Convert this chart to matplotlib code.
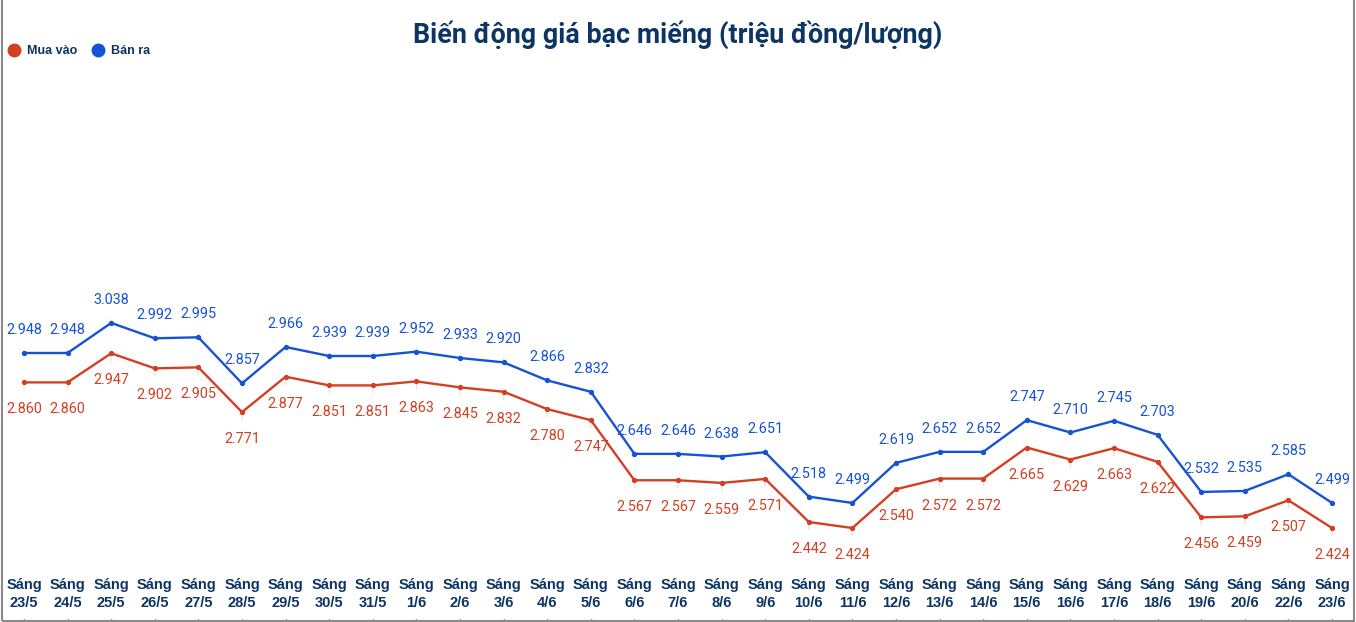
import matplotlib
matplotlib.use("Agg")
import matplotlib.pyplot as plt
from matplotlib.patches import Rectangle
from matplotlib.lines import Line2D

dates = ["23/5", "24/5", "25/5", "26/5", "27/5", "28/5", "29/5", "30/5", "31/5",
         "1/6", "2/6", "3/6", "4/6", "5/6", "6/6", "7/6", "8/6", "9/6", "10/6",
         "11/6", "12/6", "13/6", "14/6", "15/6", "16/6", "17/6", "18/6", "19/6",
         "20/6", "22/6", "23/6"]
ban_ra = [2.948, 2.948, 3.038, 2.992, 2.995, 2.857, 2.966, 2.939, 2.939, 2.952,
          2.933, 2.920, 2.866, 2.832, 2.646, 2.646, 2.638, 2.651, 2.518, 2.499,
          2.619, 2.652, 2.652, 2.747, 2.710, 2.745, 2.703, 2.532, 2.535, 2.585, 2.499]
mua_vao = [2.860, 2.860, 2.947, 2.902, 2.905, 2.771, 2.877, 2.851, 2.851, 2.863,
           2.845, 2.832, 2.780, 2.747, 2.567, 2.567, 2.559, 2.571, 2.442, 2.424,
           2.540, 2.572, 2.572, 2.665, 2.629, 2.663, 2.622, 2.456, 2.459, 2.507, 2.424]

RED = "#d23f22"
BLUE = "#1652d4"
NAVY = "#0d3563"

W, H = 1356, 622
fig = plt.figure(figsize=(W / 100, H / 100), dpi=100)
fig.patch.set_facecolor("white")

# plot area: y pixels 70..570
ax = fig.add_axes([0, (H - 570) / H, 1, 500 / H])
x = list(range(len(dates)))
ax.set_xlim(-0.55, len(dates) - 0.45)
ax.set_ylim(2.2983, 3.7953)

ax.plot(x, ban_ra, color=BLUE, lw=1.7, marker="o", ms=2.8, zorder=3)
ax.plot(x, mua_vao, color=RED, lw=1.7, marker="o", ms=2.8, zorder=3)

lead = dict(arrowstyle="-", color="#e3e3e3", lw=0.9, shrinkA=7, shrinkB=1)
for i, v in enumerate(ban_ra):
    ax.annotate(f"{v:.3f}", xy=(i, v), xytext=(0, 16.5), textcoords="offset points",
                ha="center", va="center", color=BLUE, fontsize=10.4,
                family="Roboto", arrowprops=lead, zorder=2)
for i, v in enumerate(mua_vao):
    ax.annotate(f"{v:.3f}", xy=(i, v), xytext=(0, -19.5), textcoords="offset points",
                ha="center", va="center", color=RED, fontsize=10.4,
                family="Roboto", arrowprops=lead, zorder=2)

for s in ax.spines.values():
    s.set_visible(False)
ax.set_yticks([])
ax.set_xticks(x)
ax.set_xticklabels([f"Sáng\n{d}" for d in dates], fontsize=10.5, fontweight="bold",
                   color=NAVY, family="Liberation Sans", linespacing=1.3)
ax.tick_params(axis="x", length=0, pad=6)

# small ticks under the labels
tax = fig.add_axes([0, 3 / H, 1, 4 / H])
tax.set_xlim(ax.get_xlim())
tax.set_xticks(x)
tax.set_xticklabels([])
tax.set_yticks([])
tax.tick_params(axis="x", length=3, width=1, color="#555555", direction="out")
for s in tax.spines.values():
    s.set_visible(False)
tax.patch.set_alpha(0)

fig.text(0.5, 1 - 35 / H, "Biến động giá bạc miếng (triệu đồng/lượng)",
         ha="center", va="center", fontsize=19.4, fontweight="bold",
         color=NAVY, family="Roboto")

handles = [Line2D([], [], ls="", marker="o", ms=9, color=RED, label="Mua vào"),
           Line2D([], [], ls="", marker="o", ms=9, color=BLUE, label="Bán ra")]
fig.legend(handles=handles, loc="center left", bbox_to_anchor=(-4 / W, 1 - 51 / H),
           frameon=False, ncol=2, handletextpad=0.1, columnspacing=0.6,
           prop=dict(family="Liberation Sans", weight="bold", size=9),
           labelcolor=NAVY, borderaxespad=0.0)

# frame around the chart
fig.add_artist(Rectangle((1.5 / W, 1.5 / H), 1 - 4 / W, 1.2, transform=fig.transFigure,
                         fill=False, edgecolor="#8a8a8a", lw=1.5))

fig.savefig("out.png", dpi=100, facecolor="white")
